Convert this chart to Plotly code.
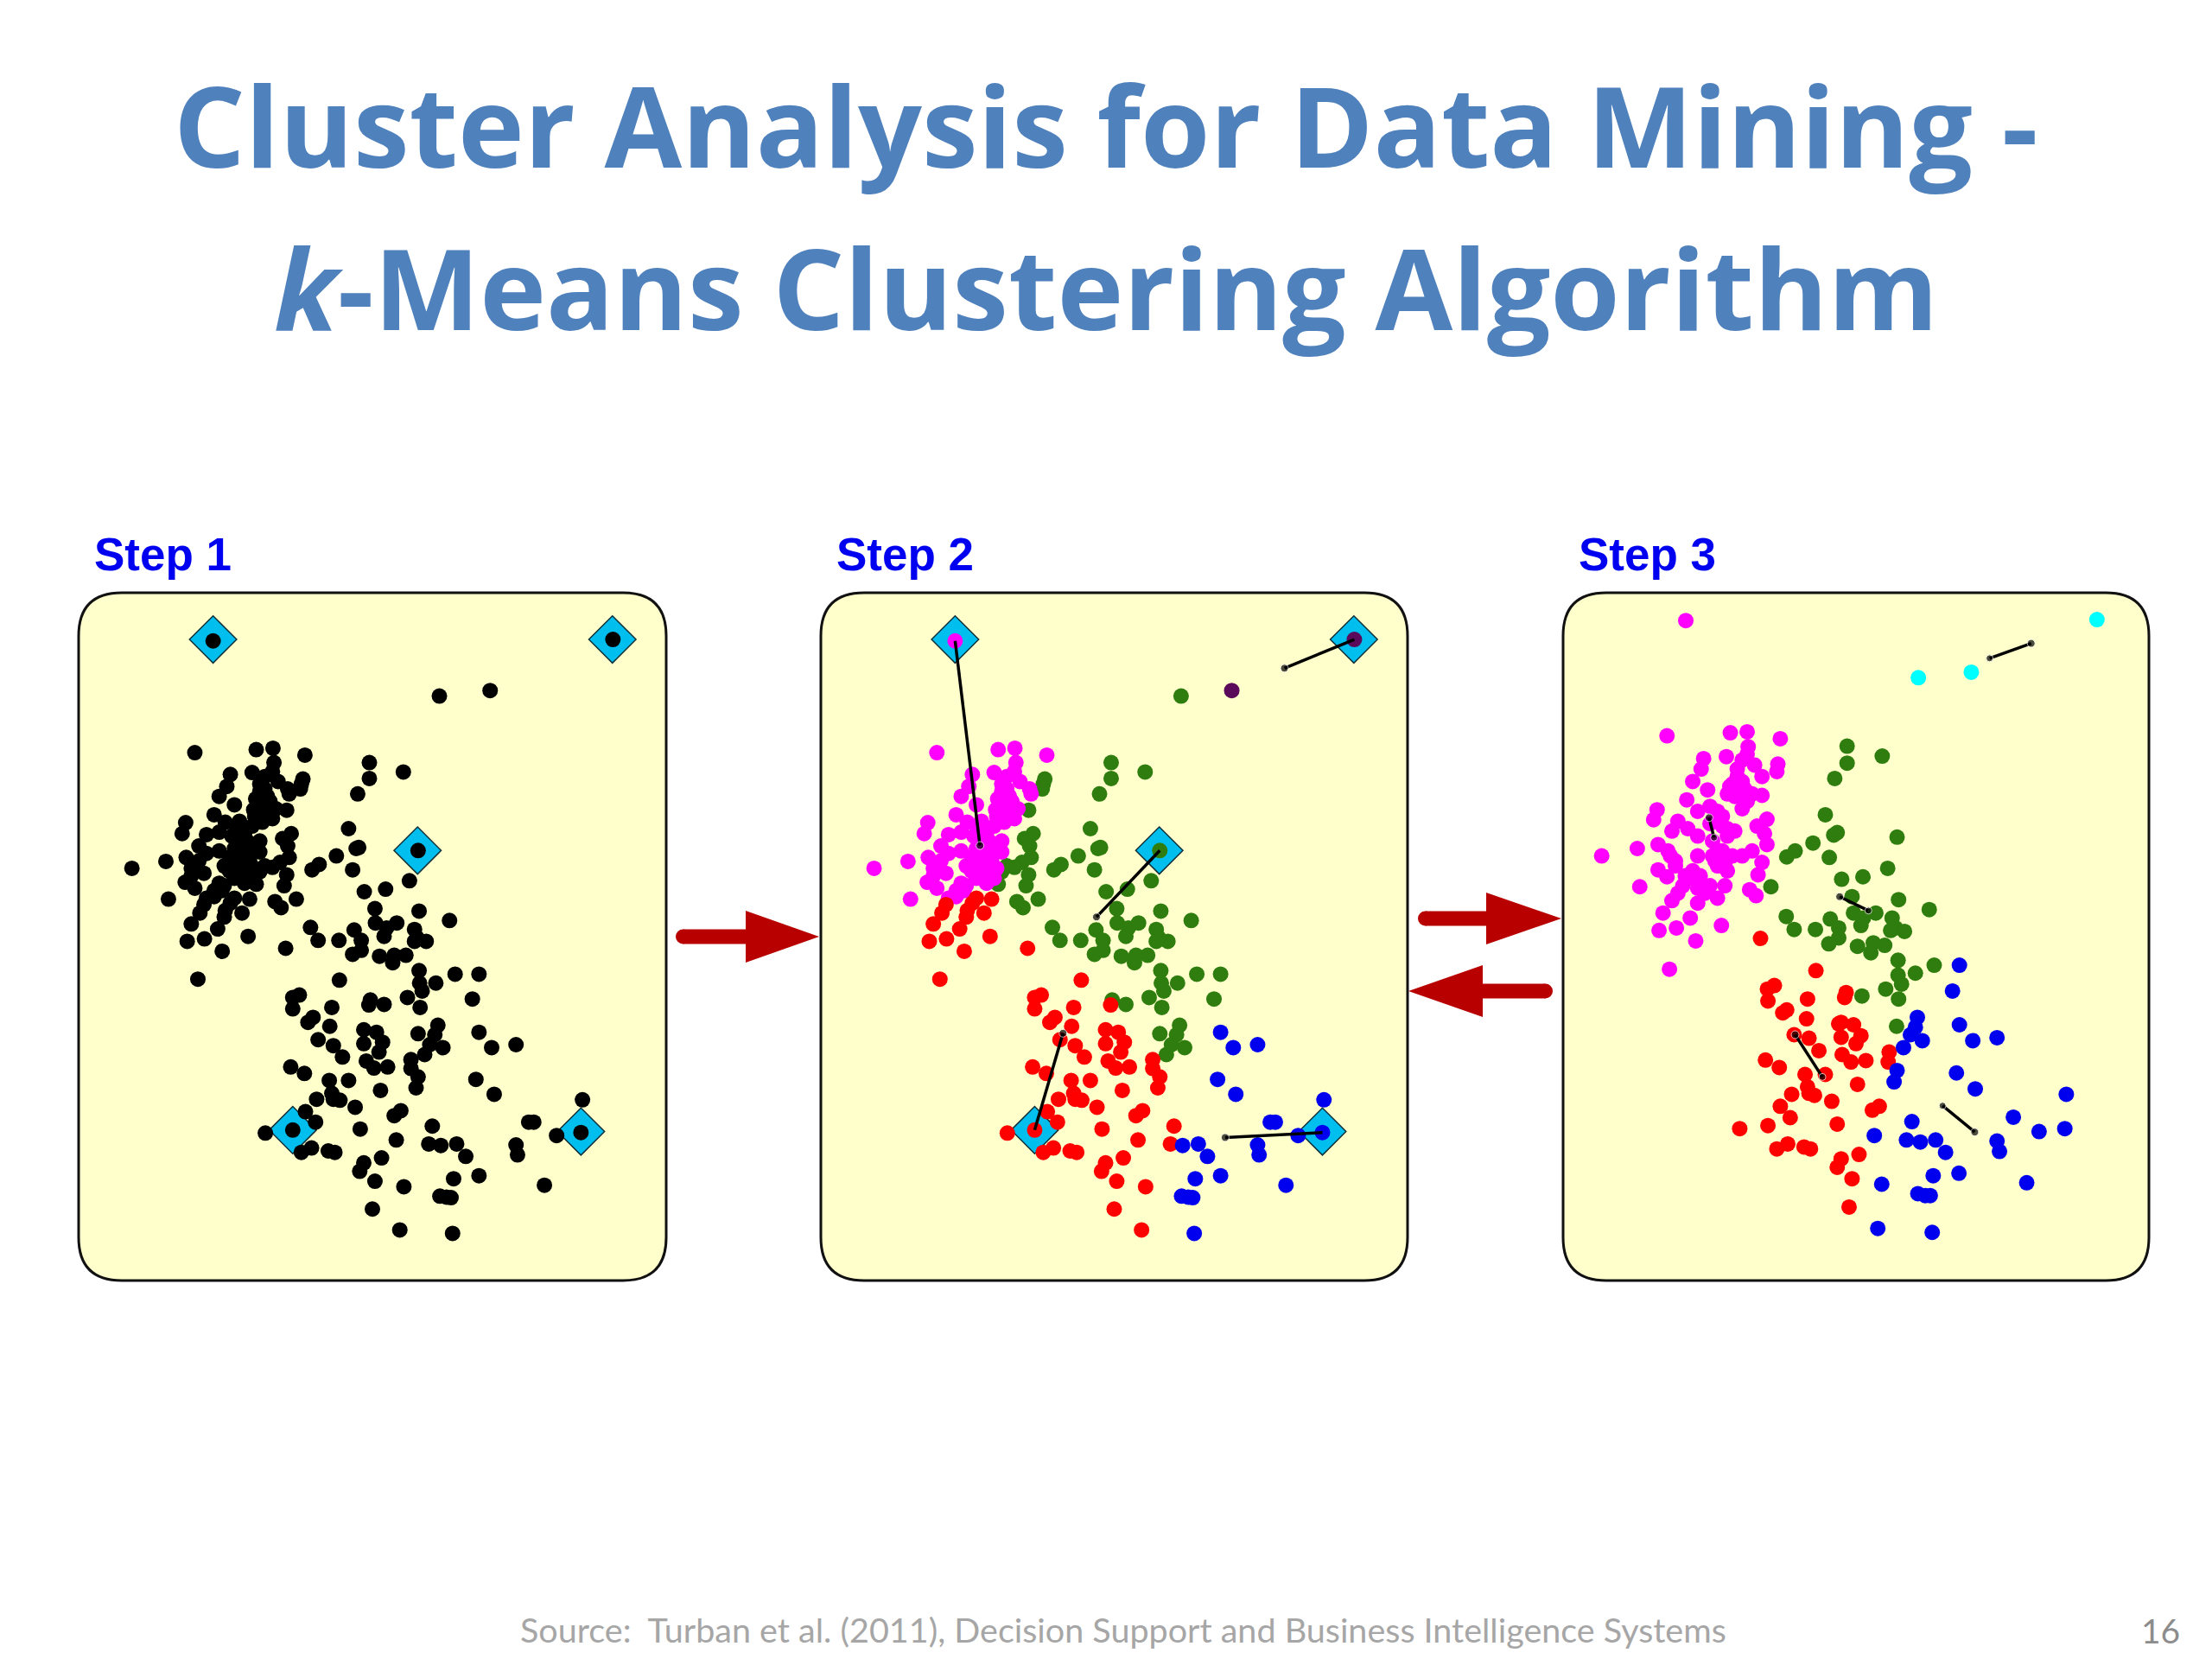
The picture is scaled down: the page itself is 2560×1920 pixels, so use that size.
import plotly.graph_objects as go

TITLE_1 = "Cluster Analysis for Data Mining -"
TITLE_2 = "<i>k</i>-Means Clustering Algorithm"
SOURCE = "Source:  Turban et al. (2011), Decision Support and Business Intelligence Systems"
PAGE = "16"
STEPS = ["Step 1", "Step 2", "Step 3"]

# Step 2 assignment (the same points are shown unassigned in step 1)
green_x = [1034,896,896,963,873,855,875,870,831,797,783,863,886,928,975,907,994,1054,908,950,930,925,866,880,836,795,780,985,990,1008,985,880,863,916,945,968,942,994,995,1000,1027,1065,1112,1099,971,996,898,925,1031,992,1025,1015,1041,1005,765,762,760,733,742,725,735,738,720,705,680,690,733,673,728,752,710,722]
green_y = [358,492,524,511,555,625,663,665,680,697,708,708,752,747,730,786,791,810,815,815,825,842,829,850,850,850,824,828,845,852,852,870,878,882,880,880,895,911,936,952,936,918,918,968,965,985,970,979,1021,1038,1040,1060,1066,1080,525,535,545,588,635,645,660,683,693,703,712,700,718,737,740,767,772,784]
magenta_x = [428,495,552,500,673,706,769,708,705,665,690,622,615,716,735,738,600,680,672,695,630,668,690,712,590,705,685,534,527,612,600,640,665,575,560,625,650,680,640,660,535,575,600,630,655,680,550,570,545,533,552,610,640,660,620,640,650,670,600,610,590,590,575,635,645,655,625,640,650,630,660,645,635,680,690,700,675,685,670,620,630,655,665,560,545,605]
magenta_y = [705,691,472,767,466,463,477,492,510,512,520,516,540,530,545,555,560,550,565,560,577,587,580,585,597,605,612,613,635,612,632,610,620,637,660,640,635,650,650,660,683,675,670,665,665,672,700,715,720,733,745,700,690,690,710,715,735,705,735,740,750,762,765,625,640,650,680,700,705,690,700,675,655,535,545,570,575,595,600,690,725,720,725,690,705,750]
red_x = [570,562,545,597,571,537,606,657,558,731,630,660,645,612,610,622,837,745,758,745,822,895,775,785,818,885,910,795,825,885,922,915,843,890,905,932,978,978,992,988,741,768,855,817,918,822,792,825,838,868,958,945,770,790,878,1020,949,1013,691,782,762,815,828,885,877,920,907,964,902,956]
red_y = [778,795,817,827,847,852,872,842,928,866,765,767,795,790,803,775,930,965,960,988,985,980,1015,1005,1023,1030,1035,1050,1062,1058,1055,1075,1085,1093,1107,1105,1090,1108,1125,1147,1105,1118,1132,1132,1152,1158,1170,1170,1172,1186,1193,1203,1195,1216,1230,1224,1252,1260,1238,1268,1277,1274,1277,1298,1315,1288,1335,1346,1391,1433]
blue_x = [1112,1137,1185,1106,1142,1316,1210,1220,1265,1185,1188,1037,1068,1086,1112,1062,1241,1035,1048,1057,1060]
blue_y = [1035,1066,1060,1130,1160,1171,1216,1216,1243,1262,1282,1263,1260,1285,1324,1330,1343,1365,1367,1368,1440]
purple_x = [1134]
purple_y = [347]

# Seeds of step 1 and 2, and the moves drawn in step 2
seed_x = [588,1375,991,745,1313]
seed_y = [244,244,669,1232,1235]
seed_dot_x = [588,1376,992,745,1313]
seed_dot_y = [247,244,669,1232,1237]
seed_colors = ["#FF00FF","#5B0A5B","#2E7D0E","#FF0000","#0000EE"]
mean_x = [637,1238,867,801,1121]
mean_y = [659,302,803,1037,1247]

# Step 3 assignment
s3_cyan_x = [1407,1153,1046]
s3_cyan_y = [204,310,321]
s3_magenta_x = [576,538,666,700,767,702,700,658,690,612,607,715,762,760,730,590,620,680,670,660,695,730,578,700,690,518,511,625,600,650,560,548,740,720,735,740,625,660,675,580,600,478,406,520,540,555,520,538,600,630,650,670,710,690,640,660,590,605,730,722,483,570,560,548,600,625,655,640,600,705,718,530,585,648,522,557,596,543,640,650,660,645,635,655,680,690,675,665,710,640,630,650,615,575,590,545,555]
s3_magenta_y = [206,438,432,430,444,460,475,480,487,484,505,497,495,510,520,530,547,520,535,555,545,558,567,570,585,587,607,580,590,600,610,630,606,620,635,657,615,625,630,625,640,665,680,657,670,690,708,722,680,680,670,680,670,680,700,710,710,720,693,718,742,740,755,770,745,740,740,765,775,748,760,795,805,820,830,825,851,908,610,620,640,670,690,695,505,530,560,540,555,590,650,700,755,720,725,680,700]
s3_green_x = [902,973,902,877,858,882,875,1003,833,797,780,866,984,934,891,748,912,1006,1068,915,960,779,868,935,930,993,1000,1018,990,838,795,885,885,865,923,955,978,950,1005,1078,1040,1005,1012,980,932,1006,1002]
s3_green_y = [459,479,493,524,597,633,638,642,654,670,682,683,705,722,727,742,762,768,788,795,795,802,807,805,820,805,825,832,830,828,828,825,845,857,862,855,860,875,890,900,916,920,938,948,962,968,1023]
s3_blue_x = [1129,1115,1044,1040,1129,1030,1054,1156,1205,1016,1003,1123,997,1161,1345,1238,1033,1342,1290,957,1022,1050,1081,1205,1101,1210,1128,1076,972,1265,1045,1060,1070,964,1074]
s3_blue_y = [900,952,1005,1025,1020,1040,1052,1052,1046,1066,1112,1117,1135,1149,1160,1206,1215,1229,1235,1243,1252,1256,1252,1254,1277,1275,1319,1324,1341,1338,1360,1364,1364,1430,1438]
s3_red_x = [727,839,755,741,742,822,900,897,780,772,820,890,915,885,795,825,890,930,920,845,892,910,940,987,985,737,765,817,858,923,822,790,825,836,871,767,967,953,787,882,685,742,782,760,815,828,926,890,882,912,906]
s3_red_y = [846,911,941,948,972,968,955,965,990,996,1008,1015,1020,1018,1040,1047,1045,1042,1058,1072,1080,1095,1092,1075,1095,1091,1106,1120,1120,1140,1145,1160,1158,1162,1174,1184,1184,1192,1207,1220,1229,1223,1260,1270,1266,1270,1281,1290,1307,1330,1387]
s3_from_x = [1274,623,887,797,1160]
s3_from_y = [252,603,762,1040,1236]
s3_to_x = [1190,633,945,852,1095]
s3_to_y = [282,643,790,1125,1183]

W, H = 2560, 1920
PANEL_TOP, PANEL_BOTTOM = 686, 1482
PANELS = [(91, 771), (950, 1629), (1809, 2487)]
RANGES = [(323, 1481), (323, 1481), (328, 1512)]
DOT = 18
CYAN = "#00BFEF"
GREEN, MAGENTA, RED, BLUE = "#2E7D0E", "#FF00FF", "#FF0000", "#0000EE"
ARROW = "#B80000"
FILL = "#FFFFCC"


def px(v):
    return v / W


def py(v):
    return 1 - v / H


fig = go.Figure()


def dots(xs, ys, color, axis, size=DOT):
    fig.add_trace(go.Scatter(x=xs, y=ys, mode="markers", xaxis=f"x{axis}", yaxis=f"y{axis}",
                             marker=dict(color=color, size=size, line=dict(width=0)),
                             hoverinfo="skip", showlegend=False, cliponaxis=False))


def diamonds(axis):
    fig.add_trace(go.Scatter(x=seed_x, y=seed_y, mode="markers", xaxis=f"x{axis}", yaxis=f"y{axis}",
                             marker=dict(symbol="diamond", color=CYAN, size=42, line=dict(color="#10303A", width=1.5)),
                             hoverinfo="skip", showlegend=False, cliponaxis=False))


def moves(x0, y0, x1, y1, axis):
    for a, b, c, d in zip(x0, y0, x1, y1):
        fig.add_trace(go.Scatter(x=[a, c], y=[b, d], mode="lines+markers", xaxis=f"x{axis}", yaxis=f"y{axis}",
                                 line=dict(color="black", width=3.5),
                                 marker=dict(color="black", size=[0, 9]) if axis == 2 else dict(color="black", size=[9, 8]),
                                 hoverinfo="skip", showlegend=False, cliponaxis=False))


# Step 1
diamonds(1)
dots(green_x + magenta_x + red_x + blue_x + purple_x + seed_dot_x,
     green_y + magenta_y + red_y + blue_y + purple_y + seed_dot_y, "black", 1)

# Step 2
diamonds(2)
dots(green_x, green_y, GREEN, 2)
dots(magenta_x, magenta_y, MAGENTA, 2)
dots(red_x, red_y, RED, 2)
dots(blue_x, blue_y, BLUE, 2)
dots(purple_x, purple_y, "#5B0A5B", 2)
for i in range(5):
    dots([seed_dot_x[i]], [seed_dot_y[i]], seed_colors[i], 2)
moves(seed_dot_x, seed_dot_y, mean_x, mean_y, 2)

# Step 3
dots(s3_green_x, s3_green_y, GREEN, 3)
dots(s3_magenta_x, s3_magenta_y, MAGENTA, 3)
dots(s3_red_x, s3_red_y, RED, 3)
dots(s3_blue_x, s3_blue_y, BLUE, 3)
dots(s3_cyan_x, s3_cyan_y, "#00FFFF", 3)
moves(s3_from_x, s3_from_y, s3_to_x, s3_to_y, 3)

shapes = []


def rounded(x0, y0, x1, y1, r):
    rx, ry = r / W, r / H
    a, b, c, d = px(x0), py(y0), px(x1), py(y1)
    return (f"M {a+rx} {b} L {c-rx} {b} Q {c} {b} {c} {b-ry} L {c} {d+ry} Q {c} {d} {c-rx} {d} "
            f"L {a+rx} {d} Q {a} {d} {a} {d+ry} L {a} {b-ry} Q {a} {b} {a+rx} {b} Z")


for left, right in PANELS:
    shapes.append(dict(type="path", xref="paper", yref="paper", layer="below", path=rounded(left, PANEL_TOP, right, PANEL_BOTTOM, 50),
                       fillcolor=FILL, line=dict(color="#111111", width=3)))


def arrow(tail, base, tip, y, half, thick=17):
    sign = 1 if tip > tail else -1
    shapes.append(dict(type="line", xref="paper", yref="paper", x0=px(tail + sign * thick / 2), x1=px(base), y0=py(y), y1=py(y),
                       line=dict(color=ARROW, width=thick)))
    shapes.append(dict(type="circle", xref="paper", yref="paper", x0=px(tail), x1=px(tail + thick), y0=py(y - thick / 2), y1=py(y + thick / 2),
                       fillcolor=ARROW, line=dict(width=0)) if sign > 0 else
                  dict(type="circle", xref="paper", yref="paper", x0=px(tail - thick), x1=px(tail), y0=py(y - thick / 2), y1=py(y + thick / 2),
                       fillcolor=ARROW, line=dict(width=0)))
    shapes.append(dict(type="path", xref="paper", yref="paper",
                       path=f"M {px(base)} {py(y-half)} L {px(tip)} {py(y)} L {px(base)} {py(y+half)} Z",
                       fillcolor=ARROW, line=dict(width=0)))


arrow(782, 863, 948, 1084, 30)
arrow(1641, 1720, 1807, 1063, 30)
arrow(1797, 1716, 1630, 1147, 30)

annotations = []


def text(s, x, y, size, color, family, anchor="center", bold=False):
    annotations.append(dict(text=f"<b>{s}</b>" if bold else s, xref="paper", yref="paper", x=px(x), y=py(y),
                            xanchor=anchor, yanchor="middle", showarrow=False,
                            font=dict(size=size, color=color, family=family)))


text(TITLE_1, 1280, 144, 130, "#4F81BD", "Open Sans", bold=True)
text(TITLE_2, 1280, 332, 130, "#4F81BD", "Open Sans", bold=True)
for label, (left, _) in zip(STEPS, PANELS):
    text(label, left + 16, 641, 53, "#0000F0", "Liberation Sans", anchor="left", bold=True)
text(SOURCE, 600, 1885, 39.5, "#A6A6A6", "Lato", anchor="left")
text(PAGE, 2525, 1887, 39, "#8C8C8C", "Lato", anchor="right")

layout = dict(width=W, height=H, margin=dict(l=0, r=0, t=0, b=0), paper_bgcolor="white", plot_bgcolor="rgba(0,0,0,0)",
              shapes=shapes, annotations=annotations, showlegend=False)
for i, ((left, right), rng) in enumerate(zip(PANELS, RANGES), start=1):
    layout[f"xaxis{i}"] = dict(domain=[px(left), px(right)], range=list(rng), visible=False, anchor=f"y{i}")
    layout[f"yaxis{i}"] = dict(domain=[py(PANEL_BOTTOM), py(PANEL_TOP)], range=[1535, 150], visible=False, anchor=f"x{i}")
fig.update_layout(**layout)

fig.write_html("out.html", config=dict(displayModeBar=False),
               post_script="document.body.style.margin='0';document.body.style.overflow='hidden';")
